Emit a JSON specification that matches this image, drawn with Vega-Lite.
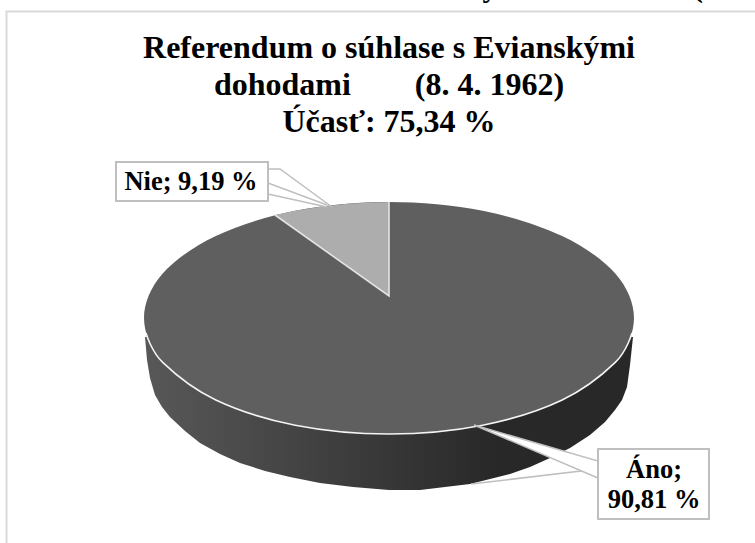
{"$schema":"https://vega.github.io/schema/vega-lite/v6.json","width":755,"height":543,"padding":0,"autosize":{"type":"none"},"background":"white","view":{"stroke":null},
"title":{"text":["Referendum o súhlase s Evianskými","dohodami\u00a0\u00a0\u00a0\u00a0\u00a0\u00a0\u00a0\u00a0(8. 4. 1962)","Účasť: 75,34 %"],"font":"Liberation Serif","fontSize":32,"fontWeight":"bold","lineHeight":37,"color":"#000000","anchor":"middle","frame":"group","orient":"top","baseline":"top","offset":0,"dx":11.5,"dy":166},
"datasets":{
"frame":[{"i":0,"x":-382.5,"y":-225},{"i":1,"x":-382.5,"y":306.5},{"i":2,"x":366,"y":306.5}],
"side":[{"i":0,"x":-244,"y":-19},{"i":1,"x":-242,"y":-42},{"i":2,"x":-239,"y":-60},{"i":3,"x":-234,"y":-77},{"i":4,"x":-227,"y":-89},{"i":5,"x":-219,"y":-99},{"i":6,"x":-204,"y":-113},{"i":7,"x":-189,"y":-125},{"i":8,"x":-169,"y":-136},{"i":9,"x":-149,"y":-145},{"i":10,"x":-124,"y":-153},{"i":11,"x":-99,"y":-159},{"i":12,"x":-69,"y":-165},{"i":13,"x":-36,"y":-169},{"i":14,"x":0,"y":-172},{"i":15,"x":31,"y":-172},{"i":16,"x":56,"y":-169},{"i":17,"x":81,"y":-166},{"i":18,"x":121,"y":-156},{"i":19,"x":141,"y":-149},{"i":20,"x":161,"y":-140},{"i":21,"x":181,"y":-130},{"i":22,"x":201,"y":-117},{"i":23,"x":216,"y":-104},{"i":24,"x":226,"y":-92},{"i":25,"x":233,"y":-82},{"i":26,"x":238,"y":-69},{"i":27,"x":241,"y":-47},{"i":28,"x":244,"y":-19},{"i":29,"x":0,"y":0}],
"top":[{"i":0,"x":0,"y":116},{"i":1,"x":93.8,"y":107.2},{"i":2,"x":173.2,"y":82},{"i":3,"x":226.3,"y":44.4},{"i":4,"x":245,"y":0},{"i":5,"x":226.3,"y":-44.4},{"i":6,"x":173.2,"y":-82},{"i":7,"x":93.8,"y":-107.2},{"i":8,"x":0,"y":-116},{"i":9,"x":-93.8,"y":-107.2},{"i":10,"x":-173.2,"y":-82},{"i":11,"x":-226.3,"y":-44.4},{"i":12,"x":-245,"y":0},{"i":13,"x":-226.3,"y":44.4},{"i":14,"x":-173.2,"y":82},{"i":15,"x":-93.8,"y":107.2}],
"rim":[{"i":0,"x":-243,"y":-15},{"i":1,"x":-226.3,"y":-44.4},{"i":2,"x":-173.2,"y":-82},{"i":3,"x":-93.8,"y":-107.2},{"i":4,"x":0,"y":-116},{"i":5,"x":93.8,"y":-107.2},{"i":6,"x":173.2,"y":-82},{"i":7,"x":226.3,"y":-44.4},{"i":8,"x":243,"y":-15}],
"wedge":[{"i":0,"x":0,"y":22},{"i":1,"x":-114,"y":103},{"i":2,"x":-93.8,"y":107.2},{"i":3,"x":-69,"y":111.3},{"i":4,"x":-39,"y":114.5},{"i":5,"x":0,"y":116}],
"wedgeEdge":[{"i":0,"x":-114,"y":103},{"i":1,"x":0,"y":22},{"i":2,"x":0,"y":116}],
"leaders":[{"g":"n1","i":0,"x":-121,"y":149},{"g":"n1","i":1,"x":-109,"y":149},{"g":"n1","i":2,"x":-57,"y":111},{"g":"n2","i":0,"x":-121,"y":135},{"g":"n2","i":1,"x":-62,"y":113},{"g":"n3","i":0,"x":-121,"y":124},{"g":"n3","i":1,"x":-62,"y":111},{"g":"a3","i":0,"x":209,"y":-151},{"g":"a3","i":1,"x":82,"y":-166}],
"callout":[{"i":0,"x":85,"y":-107},{"i":1,"x":209,"y":-143},{"i":2,"x":209,"y":-160}],
"boxes":[{"part":"Nie","x":-273,"x2":-121,"y":156,"y2":117},{"part":"Áno","x":209,"x2":320,"y":-131,"y2":-201}],
"labels":[{"t":"Nie; 9,19 %","x":-198,"y":136},{"t":"Áno;","x":265,"y":-152},{"t":"90,81 %","x":265,"y":-182}],
"cut":[{"t":"y","x":101,"y":321},{"t":"(","x":309,"y":321}]
},
"encoding":{"x":{"field":"x","type":"quantitative","scale":{"domain":[-389,366],"nice":false,"zero":false},"axis":null},"y":{"field":"y","type":"quantitative","scale":{"domain":[-225,318],"nice":false,"zero":false},"axis":null}},
"layer":[
{"data":{"name":"frame"},"mark":{"type":"line","stroke":"#d9d9d9","strokeWidth":2,"clip":false},"encoding":{"order":{"field":"i"}}},
{"data":{"name":"cut"},"mark":{"type":"text","font":"Liberation Serif","fontSize":30,"fontWeight":"bold","color":"#000000","baseline":"alphabetic","align":"center"},"encoding":{"text":{"field":"t"}}},
{"data":{"name":"side"},"mark":{"type":"line","interpolate":"linear-closed","strokeWidth":0,"fill":{"x1":0,"y1":0,"x2":1,"y2":0,"gradient":"linear","stops":[{"offset":0,"color":"#585858"},{"offset":0.56,"color":"#333333"},{"offset":0.72,"color":"#282828"},{"offset":1,"color":"#282828"}]}},"encoding":{"order":{"field":"i"}}},
{"data":{"name":"top"},"mark":{"type":"line","interpolate":"cardinal-closed","strokeWidth":0,"fill":"#5f5f5f"},"encoding":{"order":{"field":"i"}}},
{"data":{"name":"rim"},"mark":{"type":"line","interpolate":"cardinal","stroke":"#f4f4f4","strokeWidth":1.6},"encoding":{"order":{"field":"i"}}},
{"data":{"name":"wedge"},"mark":{"type":"line","interpolate":"linear-closed","strokeWidth":0,"fill":"#adadad"},"encoding":{"order":{"field":"i"}}},
{"data":{"name":"wedgeEdge"},"mark":{"type":"line","stroke":"#e4e4e4","strokeWidth":1.6},"encoding":{"order":{"field":"i"}}},
{"data":{"name":"leaders"},"mark":{"type":"line","stroke":"#bfbfbf","strokeWidth":1.5},"encoding":{"order":{"field":"i"},"detail":{"field":"g"}}},
{"data":{"name":"callout"},"mark":{"type":"line","interpolate":"linear-closed","fill":"#ffffff","stroke":"#bfbfbf","strokeWidth":1.5},"encoding":{"order":{"field":"i"}}},
{"data":{"name":"boxes"},"mark":{"type":"rect","fill":"#ffffff","stroke":"#bfbfbf","strokeWidth":2},"encoding":{"x2":{"field":"x2"},"y2":{"field":"y2"}}},
{"data":{"name":"labels"},"mark":{"type":"text","font":"Liberation Serif","fontSize":26.5,"fontWeight":"bold","color":"#000000","baseline":"middle","align":"center"},"encoding":{"text":{"field":"t"}}}
]}
